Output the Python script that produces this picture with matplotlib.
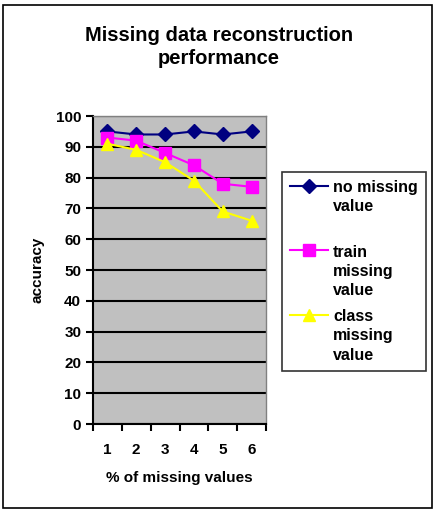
import matplotlib
matplotlib.use("Agg")
import matplotlib.pyplot as plt
from matplotlib.patches import Rectangle

categories = [1, 2, 3, 4, 5, 6]
no_missing = [95, 94, 94, 95, 94, 95]
train_missing = [93, 92, 88, 84, 78, 77]
class_missing = [91, 89, 85, 79, 69, 66]
series_labels = ["no missing\nvalue\n", "train\nmissing\nvalue", "class\nmissing\nvalue"]

plt.rcParams["font.family"] = ["Liberation Sans", "DejaVu Sans"]
plt.rcParams["font.weight"] = "bold"

W, H = 437, 513
fig = plt.figure(figsize=(W / 100, H / 100), dpi=100)
fig.patches.append(Rectangle((3 / W, 5 / H), 429 / W, 503 / H, transform=fig.transFigure,
                             fill=False, edgecolor="black", linewidth=1.2))

ax = fig.add_axes([93 / W, 1 - 424 / H, 173 / W, 308 / H])
ax.set_facecolor("#c0c0c0")
x = list(range(len(categories)))
ax.plot(x, no_missing, color="#000080", marker="D", markersize=7, linewidth=1.5,
        label=series_labels[0])
ax.plot(x, train_missing, color="#ff00ff", marker="s", markersize=8, linewidth=1.5,
        label=series_labels[1])
ax.plot(x, class_missing, color="#ffff00", marker="^", markersize=9, linewidth=1.5,
        label=series_labels[2])

ax.set_xlim(-0.5, 5.5)
ax.set_ylim(0, 100)
ax.set_yticks(range(0, 101, 10))
ax.set_xticks([i - 0.5 for i in range(7)], minor=False)
ax.set_xticklabels([])
ax.set_xticks(x, minor=True)
ax.set_xticklabels([str(c) for c in categories], minor=True)
ax.tick_params(axis="x", which="major", direction="out", length=5, width=1.5)
ax.tick_params(axis="x", which="minor", length=0, pad=14, labelsize=11)
ax.tick_params(axis="y", direction="out", length=5, width=1.5, labelsize=11)
ax.yaxis.grid(True, color="black", linewidth=1.5)
ax.set_axisbelow(True)
for s in ["top", "right"]:
    ax.spines[s].set_color("#808080")
    ax.spines[s].set_linewidth(1)
for s in ["left", "bottom"]:
    ax.spines[s].set_linewidth(1.5)

ax.set_xlabel("% of missing values", fontsize=11, fontweight="bold", labelpad=10)
ax.set_ylabel("accuracy", fontsize=11, fontweight="bold", labelpad=8)

fig.text(219 / W, 1 - 47 / H, "Missing data reconstruction\nperformance", ha="center",
         va="center", fontsize=14.5, fontweight="bold", linespacing=1.3)

leg = fig.legend(loc="upper left", bbox_to_anchor=(282 / W, 1 - 172 / H), fontsize=11.5,
                 frameon=True, fancybox=False, edgecolor="black", handlelength=2.4,
                 handletextpad=0.3, labelspacing=0.7, borderpad=0.5, borderaxespad=0)
leg.get_frame().set_linewidth(1.2)
for t in leg.get_texts():
    t.set_linespacing(1.35)
# put each marker beside the first line of its label, as in the original
for col in leg._legend_handle_box.get_children():
    for row in col.get_children():
        row.align = "top"

fig.savefig("out.png", dpi=100)
